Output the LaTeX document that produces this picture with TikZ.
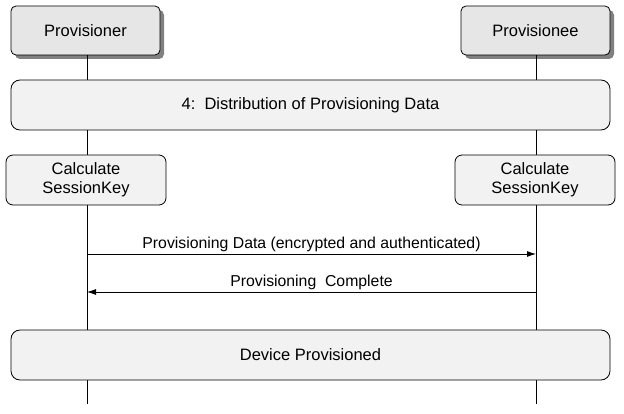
\documentclass[tikz,border=0pt]{standalone}
\usepackage{fontspec}
\setmainfont{Liberation Sans}
\usetikzlibrary{arrows.meta}
\definecolor{pfill}{HTML}{E6E6E6}
\definecolor{bfill}{HTML}{F2F2F2}
\definecolor{shad}{HTML}{808080}
\tikzset{
  every path/.style={line width=0.8pt},
  part/.style={draw,fill=pfill,rounded corners=5pt,minimum width=149pt,minimum height=49pt,font=\fontsize{16.5}{19}\selectfont},
  wide/.style={draw,fill=bfill,rounded corners=9pt,minimum width=599pt,minimum height=50pt,font=\fontsize{16.5}{19}\selectfont},
  calc/.style={draw,fill=bfill,rounded corners=7pt,minimum width=160pt,minimum height=50pt,align=center,font=\fontsize{16.5}{19}\selectfont},
  msg/.style={-{Latex[length=9pt,width=6pt]}},
  lbl/.style={font=\fontsize{15.8}{18}\selectfont,above,inner sep=2pt},
}
\begin{document}
\begin{tikzpicture}[x=1pt,y=-1pt]
\useasboundingbox (0,0) rectangle (624,414);
\fill[shad,rounded corners=5pt] (15,10) rectangle (164,59);
\fill[shad,rounded corners=5pt] (465,10) rectangle (614,59);
\coordinate (le) at (87,404);
\coordinate (re) at (536,404);
\draw (87,55) -- (le);
\draw (536,55) -- (re);
\node[part] (a) at (85.5,30.5) {Provisioner};
\node[part] (b) at (535.5,30.5) {Provisionee};
\node[wide] (d) at (310.5,105) {4:\ \ Distribution of Provisioning Data};
\node[calc] (c1) at (86,180) {Calculate\\SessionKey};
\node[calc] (c2) at (535,180) {Calculate\\SessionKey};
\coordinate (p1) at (87,254);
\coordinate (p2) at (536,254);
\coordinate (q1) at (87,292);
\coordinate (q2) at (536,292);
\draw[msg] (p1) -- node[lbl]{Provisioning Data (encrypted and authenticated)} (p2);
\draw[msg] (q2) -- node[lbl]{Provisioning\ \ Complete} (q1);
\node[wide] (e) at (310.5,355) {Device Provisioned};
\end{tikzpicture}
\end{document}
